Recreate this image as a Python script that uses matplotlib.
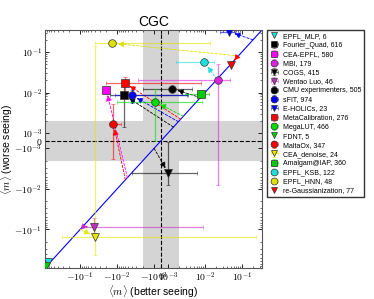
import numpy as np
import matplotlib
matplotlib.use("Agg")
import matplotlib.pyplot as plt
from matplotlib.colors import to_rgba
from matplotlib.ticker import FixedLocator, FixedFormatter, SymmetricalLogLocator

plt.rcParams['font.family'] = ['Liberation Sans', 'DejaVu Sans']
plt.rcParams['mathtext.fontset'] = 'cm'

# ---- data ----
methods = ["EPFL_MLP, 6", "Fourier_Quad, 616", "CEA-EPFL, 580", "MBI, 179", "COGS, 415",
           "Wentao Luo, 46", "CMU experimenters, 505", "sFIT, 974", "E-HOLICs, 23",
           "MetaCalibration, 276", "MegaLUT, 466", "FDNT, 5", "MaltaOx, 347",
           "CEA_denoise, 24", "Amalgam@IAP, 360", "EPFL_KSB, 122", "EPFL_HNN, 48",
           "re-Gaussianization, 77"]
colors = ["#22dddd", "black", "#ff00ff", "#e020e0", "black",
          "#c030c0", "black", "blue", "blue",
          "red", "#00dd00", "#00cc00", "red",
          "#e8e800", "#00cc00", "#22dddd", "#e0e000",
          "red"]
markers = ["v", "s", "s", "o", "v", "v", "o", "o", "v",
           "s", "o", "v", "o", "v", "s", "o", "o", "v"]
m_better = [-0.73, -0.0064, -0.0197, 0.0223, 0.00101,
            -0.0433, 0.00129, -0.0040, 0.045,
            -0.0062, -0.00087, -0.85, -0.0126,
            -0.039, 0.0078, 0.0096, -0.0136,
            0.050]
m_worse = [-0.63, 0.0086, 0.0118, 0.0208, -0.0041,
           -0.0897, 0.0125, 0.0086, 0.32,
           0.0173, 0.0059, -0.82, 0.0017,
           -0.152, 0.0094, 0.0565, 0.165,
           0.048]
err_better = [0, 0.0097, 0.003, 0.025, 0.005,
              0.052, 0.0033, 0.0075, 0.02,
              0.014, 0.009, 0, 0.0045,
              0.28, 0.005, 0.008, 0.027,
              0]
err_worse = [0, 0.0072, 0.002, 0.029, 0.0039,
             0.036, 0.0015, 0.003, 0,
             0.0075, 0.006, 0, 0.0035,
             0.29, 0.002, 0, 0,
             0]
# start of the dashed arrow, on the diagonal (nan = no arrow)
arrow_start = [np.nan, 0.0014, -0.0053, np.nan, -0.001,
               -0.085, 0.0075, 0.0019, 0.2,
               0.0022, 0.0026, np.nan, -0.006,
               -0.1, np.nan, 0.021, 0.08,
               0.065]

lims = (-0.9, 0.35)
band = 2e-3
ticks = [-0.1, -0.01, -0.001, 0, 0.001, 0.01, 0.1]
tick_labels = [r"$-10^{-1}$", r"$-10^{-2}$", r"$-10^{-3}$", r"$0$",
               r"$10^{-3}$", r"$10^{-2}$", r"$10^{-1}$"]

fig = plt.figure(figsize=(3.74, 2.99), dpi=100)
ax = fig.add_axes([0.1203, 0.1037, 0.5802, 0.796])
ax.set_xscale("symlog", linthresh=1e-3, linscale=0.17)
ax.set_yscale("symlog", linthresh=1e-3, linscale=0.17)
ax.set_xlim(*lims)
ax.set_ylim(*lims)

ax.axvspan(-band, band, color="#d4d4d4", zorder=0, lw=0)
ax.axhspan(-band, band, color="#d4d4d4", zorder=0, lw=0)
ax.axvline(0, color="black", ls="--", lw=0.8, zorder=1)
ax.axhline(0, color="black", ls="--", lw=0.8, zorder=1)
ax.plot([-1, 1], [-1, 1], color="blue", lw=0.8, zorder=2)

for i, name in enumerate(methods):
    c = colors[i]
    s = arrow_start[i]
    if not np.isnan(s):
        ax.annotate("", xy=(m_better[i], m_worse[i]), xytext=(s, s),
                    arrowprops=dict(arrowstyle="-|>,head_length=0.6,head_width=0.3",
                                    color=c, lw=0.6, ls=(0, (3, 2)), shrinkA=0, shrinkB=4,
                                    mutation_scale=6), zorder=3)
    xe = err_better[i] if err_better[i] > 0 else None
    ye = err_worse[i] if err_worse[i] > 0 else None
    ax.errorbar(m_better[i], m_worse[i], xerr=xe, yerr=ye, fmt=markers[i],
                color=c, ms=5.5, mec="#333333", mew=0.5,
                ecolor=to_rgba(c, 0.6), elinewidth=0.9, capsize=1.5,
                capthick=0.8, label=name, zorder=4)

ax.xaxis.set_major_locator(FixedLocator(ticks))
ax.xaxis.set_major_formatter(FixedFormatter(tick_labels))
ax.yaxis.set_major_locator(FixedLocator(ticks))
ax.yaxis.set_major_formatter(FixedFormatter(tick_labels))
subs = np.arange(2, 10)
ax.xaxis.set_minor_locator(SymmetricalLogLocator(linthresh=1e-3, base=10, subs=subs))
ax.yaxis.set_minor_locator(SymmetricalLogLocator(linthresh=1e-3, base=10, subs=subs))
ax.tick_params(which="both", direction="in", top=True, right=True, labelsize=7, pad=2)
ax.tick_params(which="major", length=3, width=0.6)
ax.tick_params(which="minor", length=1.5, width=0.4)
for sp in ax.spines.values():
    sp.set_color("#555555")
    sp.set_linewidth(0.8)

ax.set_title("CGC", fontsize=10, pad=3)
ax.set_xlabel(r"$\langle m\rangle$ (better seeing)", fontsize=7.5, labelpad=-0.5)
ax.set_ylabel(r"$\langle m\rangle$ (worse seeing)", fontsize=7.5, labelpad=-1)

ax.legend(loc="upper left", bbox_to_anchor=(1.025, 1.0), borderaxespad=0,
          fontsize=5, frameon=True, fancybox=False, edgecolor="black",
          labelspacing=0.3, handlelength=1.2, handletextpad=0.6,
          borderpad=0.4, markerscale=0.9)

fig.savefig("out.png", dpi=100)
